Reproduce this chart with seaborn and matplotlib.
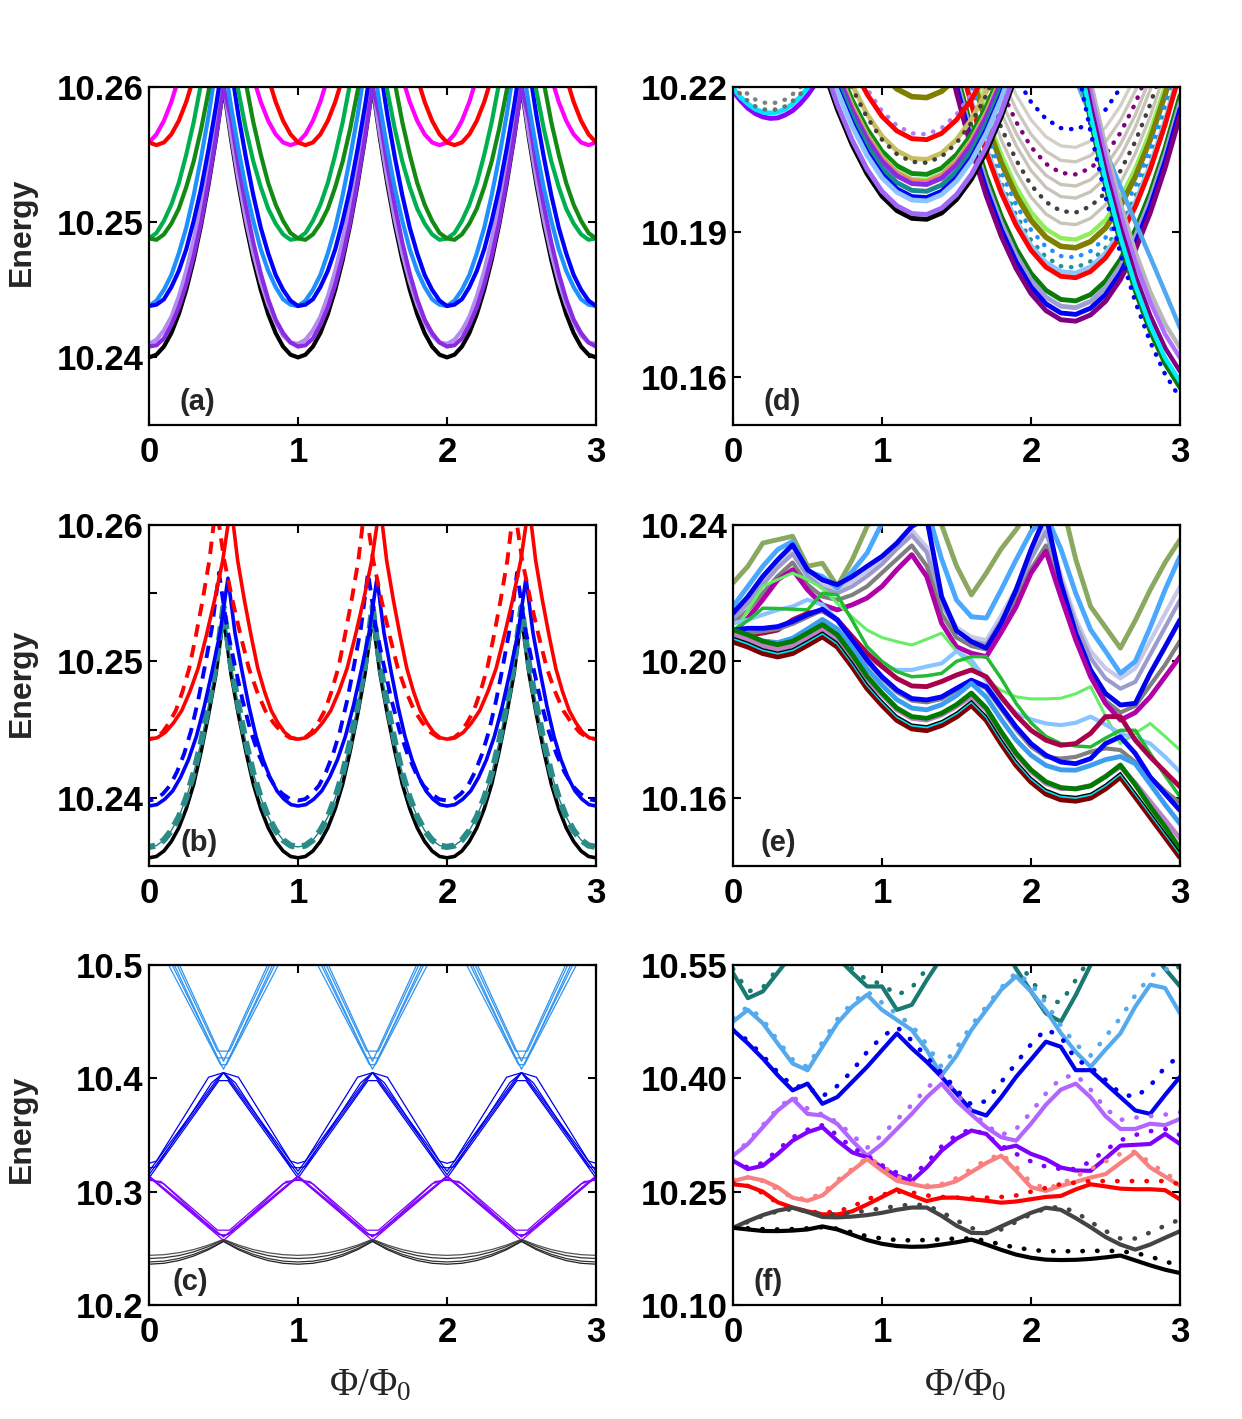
import numpy as np
import matplotlib
matplotlib.use("Agg")
import matplotlib.pyplot as plt
import seaborn as sns

# ---------------------------------------------------------------
# (a) one flux period, x = 0.00 ... 0.95 (repeated three times)
# ---------------------------------------------------------------
A_X = np.round(np.arange(20) * 0.05, 2)
A_BLACK = [10.2400, 10.2402, 10.2408, 10.2418, 10.2432, 10.2450, 10.2472, 10.2498, 10.2528, 10.2562,
           10.2600, 10.2562, 10.2528, 10.2498, 10.2472, 10.2450, 10.2432, 10.2418, 10.2408, 10.2402]
A_LPURPLE = [10.2410, 10.2413, 10.2420, 10.2430, 10.2445, 10.2464, 10.2487, 10.2514, 10.2544, 10.2579,
             10.2602, 10.2565, 10.2532, 10.2502, 10.2477, 10.2456, 10.2439, 10.2426, 10.2416, 10.2411]
A_PURPLE = [10.2408, 10.2409, 10.2414, 10.2424, 10.2437, 10.2454, 10.2475, 10.2500, 10.2530, 10.2563,
            10.2600, 10.2577, 10.2542, 10.2512, 10.2485, 10.2462, 10.2443, 10.2428, 10.2418, 10.2411]
A_LBLUE = [10.2438, 10.2442, 10.2450, 10.2461, 10.2477, 10.2496, 10.2520, 10.2548, 10.2579, 10.2615,
           10.2622, 10.2586, 10.2554, 10.2525, 10.2501, 10.2480, 10.2464, 10.2452, 10.2443, 10.2439]
A_BLUE = [10.2438, 10.2439, 10.2443, 10.2452, 10.2464, 10.2480, 10.2501, 10.2525, 10.2554, 10.2586,
          10.2622, 10.2615, 10.2579, 10.2548, 10.2520, 10.2496, 10.2477, 10.2461, 10.2450, 10.2442]
A_LGREEN = [10.2488, 10.2492, 10.2501, 10.2513, 10.2529, 10.2550, 10.2574, 10.2603, 10.2635, 10.2671,
            10.2664, 10.2628, 10.2597, 10.2569, 10.2545, 10.2526, 10.2510, 10.2499, 10.2491, 10.2487]
A_DGREEN = [10.2488, 10.2487, 10.2491, 10.2499, 10.2510, 10.2526, 10.2545, 10.2569, 10.2597, 10.2628,
            10.2664, 10.2671, 10.2635, 10.2603, 10.2574, 10.2550, 10.2529, 10.2513, 10.2501, 10.2492]
A_MAGENTA = [10.2559, 10.2565, 10.2575, 10.2589, 10.2607, 10.2629, 10.2655, 10.2685, 10.2719, 10.2757,
             10.2719, 10.2685, 10.2655, 10.2629, 10.2607, 10.2589, 10.2575, 10.2565, 10.2559, 10.2557]
A_RED = [10.2559, 10.2557, 10.2559, 10.2565, 10.2575, 10.2589, 10.2607, 10.2629, 10.2655, 10.2685,
         10.2719, 10.2757, 10.2719, 10.2685, 10.2655, 10.2629, 10.2607, 10.2589, 10.2575, 10.2565]

# ---------------------------------------------------------------
# (b) one flux period per curve (flat minima, cusp-like maxima)
# ---------------------------------------------------------------
B_BLACK_X = [0, .05, .1, .15, .2, .25, .3, .35, .4, .45, .5, .55, .6, .65, .7, .75, .8, .85, .9, .95]
B_BLACK = [10.2356, 10.2357, 10.2361, 10.2368, 10.2378, 10.2392, 10.2410, 10.2434, 10.2461, 10.2491,
           10.2533, 10.2491, 10.2461, 10.2434, 10.2410, 10.2392, 10.2378, 10.2368, 10.2361, 10.2357]
B_TEAL = [10.2364, 10.2365, 10.2369, 10.2376, 10.2386, 10.2400, 10.2418, 10.2441, 10.2468, 10.2498,
          10.2540, 10.2498, 10.2468, 10.2441, 10.2418, 10.2400, 10.2386, 10.2376, 10.2369, 10.2365]
B_BLUE_X = [0, .053, .106, .159, .212, .265, .318, .371, .424, .477,
            .53, .577, .624, .671, .718, .765, .812, .859, .906, .953]
B_BLUE = [10.2394, 10.2395, 10.2399, 10.2405, 10.2415, 10.2428, 10.2445, 10.2467, 10.2493, 10.2521,
          10.2561, 10.2521, 10.2493, 10.2467, 10.2445, 10.2428, 10.2415, 10.2405, 10.2399, 10.2395]
B_BLUE_D_X = [0, .047, .094, .141, .188, .235, .282, .329, .376, .423,
              .47, .523, .576, .629, .682, .735, .788, .841, .894, .947]
B_BLUE_D = [10.2398, 10.2399, 10.2403, 10.2409, 10.2419, 10.2432, 10.2449, 10.2471, 10.2497, 10.2525,
            10.2565, 10.2525, 10.2497, 10.2471, 10.2449, 10.2432, 10.2419, 10.2409, 10.2403, 10.2399]
B_RED_X = [0, .055, .11, .165, .22, .275, .33, .385, .44, .495,
           .55, .595, .64, .685, .73, .775, .82, .865, .91, .955]
B_RED = [10.2443, 10.2444, 10.2448, 10.2455, 10.2464, 10.2478, 10.2495, 10.2519, 10.2545, 10.2574,
         10.2615, 10.2574, 10.2545, 10.2519, 10.2495, 10.2478, 10.2464, 10.2455, 10.2448, 10.2444]
B_RED_D_X = [0, .045, .09, .135, .18, .225, .27, .315, .36, .405,
             .45, .505, .56, .615, .67, .725, .78, .835, .89, .945]
B_RED_D = [10.2443, 10.2444, 10.2448, 10.2455, 10.2464, 10.2478, 10.2495, 10.2519, 10.2545, 10.2574,
           10.2615, 10.2574, 10.2545, 10.2519, 10.2495, 10.2478, 10.2464, 10.2455, 10.2448, 10.2444]

# ---------------------------------------------------------------
# (c) bundles of thin lines, one flux period each
# ---------------------------------------------------------------
C_LB = [([0.1, 0.5, 0.9], [10.515, 10.408, 10.515]),
        ([0.1, 0.46, 0.54, 0.9], [10.520, 10.418, 10.418, 10.520]),
        ([0.1, 0.46, 0.54, 0.9], [10.525, 10.424, 10.424, 10.525]),
        ([0.1, 0.5, 0.9], [10.530, 10.415, 10.530]),
        ([0.1, 0.48, 0.52, 0.9], [10.508, 10.412, 10.412, 10.508])]
C_B = [([0, 0.5], [10.315, 10.405]),
       ([0, 0.45, 0.5, 0.55], [10.318, 10.398, 10.405, 10.398]),
       ([0, 0.05, 0.4, 0.5, 0.6, 0.95], [10.325, 10.327, 10.401, 10.405, 10.401, 10.327]),
       ([0, 0.05, 0.42, 0.5, 0.58, 0.95], [10.321, 10.322, 10.396, 10.405, 10.396, 10.322]),
       ([0, 0.47, 0.53], [10.312, 10.398, 10.398])]
C_P = [([0, 0.5], [10.313, 10.257]),
       ([0, 0.08, 0.45, 0.5, 0.55, 0.92], [10.310, 10.309, 10.264, 10.261, 10.264, 10.309]),
       ([0, 0.1, 0.46, 0.54, 0.9], [10.311, 10.307, 10.266, 10.266, 10.307]),
       ([0, 0.5], [10.314, 10.260]),
       ([0, 0.47, 0.53], [10.313, 10.262, 10.262])]
C_K_X = [0, .1, .2, .3, .4, .5, .6, .7, .8, .9]
C_K = [[10.2438, 10.2444, 10.2461, 10.2489, 10.2529, 10.2580, 10.2529, 10.2489, 10.2461, 10.2444],
       [10.2410, 10.2417, 10.2436, 10.2469, 10.2516, 10.2575, 10.2516, 10.2469, 10.2436, 10.2417],
       [10.2380, 10.2387, 10.2410, 10.2447, 10.2498, 10.2565, 10.2498, 10.2447, 10.2410, 10.2387],
       [10.2360, 10.2368, 10.2392, 10.2432, 10.2488, 10.2560, 10.2488, 10.2432, 10.2392, 10.2368]]

# ---------------------------------------------------------------
# (d) four families of arcs
# ---------------------------------------------------------------
D1_X = np.round(np.arange(12) * 0.05, 2)          # 0.00 .. 0.55
D1_PURPLE = [10.2191, 10.2172, 10.2156, 10.2145, 10.2138, 10.2135, 10.2136, 10.2142, 10.2151, 10.2165, 10.2183, 10.2205]
D1_CYAN = [10.2198, 10.2179, 10.2165, 10.2154, 10.2148, 10.2146, 10.2148, 10.2154, 10.2165, 10.2179, 10.2198, 10.2221]
D1_GREYDOT1 = [10.2204, 10.2185, 10.2171, 10.2160, 10.2154, 10.2152, 10.2154, 10.2160, 10.2171, 10.2185, 10.2204, 10.2227]
D1_GREYDOT2 = [10.2218, 10.2199, 10.2185, 10.2174, 10.2168, 10.2166, 10.2168, 10.2174, 10.2185, 10.2199, 10.2218, 10.2241]

D2_X = np.round(0.6 + np.arange(14) * 0.1, 1)     # 0.6 .. 1.9
D2_BLACK = [10.2243, 10.2154, 10.2080, 10.2020, 10.1974, 10.1944, 10.1928, 10.1926, 10.1939, 10.1967, 10.2009, 10.2066, 10.2138, 10.2224]
D2_LPURPLE = [10.2253, 10.2164, 10.2090, 10.2030, 10.1984, 10.1954, 10.1938, 10.1936, 10.1949, 10.1977, 10.2019, 10.2076, 10.2148, 10.2234]
D2_LBLUE = [10.2281, 10.2192, 10.2118, 10.2058, 10.2012, 10.1982, 10.1966, 10.1964, 10.1977, 10.2005, 10.2047, 10.2104, 10.2176, 10.2262]
D2_BLUE = [10.2288, 10.2199, 10.2125, 10.2065, 10.2019, 10.1989, 10.1973, 10.1971, 10.1984, 10.2012, 10.2054, 10.2111, 10.2183, 10.2269]
D2_TEAL = [10.2301, 10.2212, 10.2138, 10.2078, 10.2032, 10.2002, 10.1986, 10.1984, 10.1997, 10.2025, 10.2067, 10.2124, 10.2196, 10.2282]
D2_PURPLE = [10.2315, 10.2226, 10.2152, 10.2092, 10.2046, 10.2016, 10.2000, 10.1998, 10.2011, 10.2039, 10.2081, 10.2138, 10.2210, 10.2296]
D2_SALMON = [10.2321, 10.2232, 10.2158, 10.2098, 10.2052, 10.2022, 10.2006, 10.2004, 10.2017, 10.2045, 10.2087, 10.2144, 10.2216, 10.2302]
D2_LGREEN = [10.2324, 10.2235, 10.2161, 10.2101, 10.2055, 10.2025, 10.2009, 10.2007, 10.2020, 10.2048, 10.2090, 10.2147, 10.2219, 10.2305]
D2_DGREEN = [10.2336, 10.2247, 10.2173, 10.2113, 10.2067, 10.2037, 10.2021, 10.2019, 10.2032, 10.2060, 10.2102, 10.2159, 10.2231, 10.2317]
D2_GREYDOT = [10.2360, 10.2271, 10.2197, 10.2137, 10.2091, 10.2061, 10.2045, 10.2043, 10.2056, 10.2084, 10.2126, 10.2183, 10.2255, 10.2341]
D2_KHAKI = [10.2367, 10.2278, 10.2204, 10.2144, 10.2098, 10.2068, 10.2052, 10.2050, 10.2063, 10.2091, 10.2133, 10.2190, 10.2262, 10.2348]
D2_RED = [10.2408, 10.2319, 10.2245, 10.2185, 10.2139, 10.2109, 10.2093, 10.2091, 10.2104, 10.2132, 10.2174, 10.2231, 10.2303, 10.2389]
D2_LPURPLEDOT = [10.2419, 10.2330, 10.2256, 10.2196, 10.2150, 10.2120, 10.2104, 10.2102, 10.2115, 10.2143, 10.2185, 10.2242, 10.2314, 10.2400]
D2_OLIVE = [10.2495, 10.2406, 10.2332, 10.2272, 10.2226, 10.2196, 10.2180, 10.2178, 10.2191, 10.2219, 10.2261, 10.2318, 10.2390, 10.2476]

D3_X = np.round(1.4 + np.arange(17) * 0.1, 1)     # 1.4 .. 3.0
D3_PURPLE = [10.2320, 10.2188, 10.2073, 10.1974, 10.1891, 10.1824, 10.1772, 10.1737, 10.1718, 10.1715, 10.1728, 10.1756, 10.1801, 10.1862, 10.1939, 10.2032, 10.2140]
D3_BLUE = [10.2334, 10.2202, 10.2087, 10.1988, 10.1905, 10.1838, 10.1786, 10.1751, 10.1732, 10.1729, 10.1742, 10.1770, 10.1815, 10.1876, 10.1953, 10.2046, 10.2154]
D3_LAVENDER = [10.2348, 10.2216, 10.2101, 10.2002, 10.1919, 10.1852, 10.1800, 10.1765, 10.1746, 10.1743, 10.1756, 10.1784, 10.1829, 10.1890, 10.1967, 10.2060, 10.2168]
D3_DGREEN = [10.2362, 10.2230, 10.2115, 10.2016, 10.1933, 10.1866, 10.1814, 10.1779, 10.1760, 10.1757, 10.1770, 10.1798, 10.1843, 10.1904, 10.1981, 10.2074, 10.2182]
D3_RED = [10.2410, 10.2278, 10.2163, 10.2064, 10.1981, 10.1914, 10.1862, 10.1827, 10.1808, 10.1805, 10.1818, 10.1846, 10.1891, 10.1952, 10.2029, 10.2122, 10.2230]
D3_LBLUE = [10.2420, 10.2288, 10.2173, 10.2074, 10.1991, 10.1924, 10.1872, 10.1837, 10.1818, 10.1815, 10.1828, 10.1856, 10.1901, 10.1962, 10.2039, 10.2132, 10.2240]
D3_TEALDOT = [10.2431, 10.2299, 10.2184, 10.2085, 10.2002, 10.1935, 10.1883, 10.1848, 10.1829, 10.1826, 10.1839, 10.1867, 10.1912, 10.1973, 10.2050, 10.2143, 10.2251]
D3_LBLUEDOT = [10.2452, 10.2320, 10.2205, 10.2106, 10.2023, 10.1956, 10.1904, 10.1869, 10.1850, 10.1847, 10.1860, 10.1888, 10.1933, 10.1994, 10.2071, 10.2164, 10.2272]
D3_OLIVE = [10.2472, 10.2340, 10.2225, 10.2126, 10.2043, 10.1976, 10.1924, 10.1889, 10.1870, 10.1867, 10.1880, 10.1908, 10.1953, 10.2014, 10.2091, 10.2184, 10.2292]
D3_LGREEN = [10.2489, 10.2357, 10.2242, 10.2143, 10.2060, 10.1993, 10.1941, 10.1906, 10.1887, 10.1884, 10.1897, 10.1925, 10.1970, 10.2031, 10.2108, 10.2201, 10.2309]
D3_GREY1 = [10.2520, 10.2388, 10.2273, 10.2174, 10.2091, 10.2024, 10.1972, 10.1937, 10.1918, 10.1915, 10.1928, 10.1956, 10.2001, 10.2062, 10.2139, 10.2232, 10.2340]
D3_GREYDOT = [10.2545, 10.2413, 10.2298, 10.2199, 10.2116, 10.2049, 10.1997, 10.1962, 10.1943, 10.1940, 10.1953, 10.1981, 10.2026, 10.2087, 10.2164, 10.2257, 10.2365]
D3_GREY2 = [10.2575, 10.2443, 10.2328, 10.2229, 10.2146, 10.2079, 10.2027, 10.1992, 10.1973, 10.1970, 10.1983, 10.2011, 10.2056, 10.2117, 10.2194, 10.2287, 10.2395]
D3_GREY3 = [10.2600, 10.2468, 10.2353, 10.2254, 10.2171, 10.2104, 10.2052, 10.2017, 10.1998, 10.1995, 10.2008, 10.2036, 10.2081, 10.2142, 10.2219, 10.2312, 10.2420]
D3_PURPLEDOT = [10.2624, 10.2492, 10.2377, 10.2278, 10.2195, 10.2128, 10.2076, 10.2041, 10.2022, 10.2019, 10.2032, 10.2060, 10.2105, 10.2166, 10.2243, 10.2336, 10.2444]
D3_GREY4 = [10.2650, 10.2518, 10.2403, 10.2304, 10.2221, 10.2154, 10.2102, 10.2067, 10.2048, 10.2045, 10.2058, 10.2086, 10.2131, 10.2192, 10.2269, 10.2362, 10.2470]
D3_GREY5 = [10.2680, 10.2548, 10.2433, 10.2334, 10.2251, 10.2184, 10.2132, 10.2097, 10.2078, 10.2075, 10.2088, 10.2116, 10.2161, 10.2222, 10.2299, 10.2392, 10.2500]
D3_BLUEDOT = [10.2717, 10.2585, 10.2470, 10.2371, 10.2288, 10.2221, 10.2169, 10.2134, 10.2115, 10.2112, 10.2125, 10.2153, 10.2198, 10.2259, 10.2336, 10.2429, 10.2537]

D4_X = np.round(2.3 + np.arange(8) * 0.1, 1)      # 2.3 .. 3.0
D4_LBLUE = [10.2215, 10.2141, 10.2068, 10.1994, 10.1920, 10.1848, 10.1775, 10.1701]
D4_GREY = [10.2362, 10.2211, 10.2077, 10.1959, 10.1859, 10.1776, 10.1709, 10.1660]
D4_LPURPLE = [10.2341, 10.2190, 10.2056, 10.1938, 10.1838, 10.1755, 10.1688, 10.1639]
D4_PURPLE = [10.2313, 10.2162, 10.2028, 10.1910, 10.1810, 10.1727, 10.1660, 10.1611]
D4_CYAN = [10.2292, 10.2141, 10.2007, 10.1889, 10.1789, 10.1706, 10.1639, 10.1590]
D4_DGREEN = [10.2279, 10.2128, 10.1994, 10.1876, 10.1776, 10.1693, 10.1626, 10.1577]
D4_BLUEDOT = [10.2258, 10.2107, 10.1973, 10.1855, 10.1755, 10.1672, 10.1605, 10.1556]

# ---------------------------------------------------------------
# (e) coarse sampled levels, x = 0.0 .. 3.0 step 0.1
# ---------------------------------------------------------------
EF_X = np.round(np.arange(31) * 0.1, 1)
E_DRED = [10.2058, 10.2043, 10.2024, 10.2014, 10.2024, 10.2048, 10.2073, 10.2043, 10.1985, 10.1921, 10.1872, 10.1828, 10.1803, 10.1798, 10.1813, 10.1838,
          10.1872, 10.1828, 10.1759, 10.1696, 10.1647, 10.1612, 10.1595, 10.1591, 10.1600, 10.1627, 10.1661, 10.1603, 10.1544, 10.1485, 10.1426]
E_CYAN = [10.2067, 10.2052, 10.2033, 10.2023, 10.2033, 10.2057, 10.2082, 10.2052, 10.1994, 10.1930, 10.1881, 10.1837, 10.1812, 10.1807, 10.1822, 10.1847,
          10.1881, 10.1837, 10.1768, 10.1705, 10.1656, 10.1621, 10.1604, 10.1600, 10.1609, 10.1636, 10.1670, 10.1612, 10.1553, 10.1494, 10.1435]
E_BLACK = [10.2071, 10.2056, 10.2037, 10.2027, 10.2037, 10.2061, 10.2086, 10.2056, 10.1998, 10.1934, 10.1885, 10.1841, 10.1816, 10.1811, 10.1826, 10.1851,
           10.1885, 10.1841, 10.1772, 10.1709, 10.1660, 10.1625, 10.1608, 10.1604, 10.1613, 10.1640, 10.1674, 10.1616, 10.1557, 10.1498, 10.1439]
E_DGREEN = [10.2093, 10.2078, 10.2059, 10.2049, 10.2059, 10.2083, 10.2108, 10.2078, 10.2020, 10.1956, 10.1907, 10.1863, 10.1838, 10.1833, 10.1848, 10.1873,
            10.1907, 10.1863, 10.1794, 10.1731, 10.1682, 10.1647, 10.1630, 10.1626, 10.1635, 10.1662, 10.1696, 10.1638, 10.1574, 10.1515, 10.1451]
E_MAUVE = [10.2080, 10.2065, 10.2046, 10.2036, 10.2046, 10.2070, 10.2095, 10.2065, 10.2007, 10.1943, 10.1902, 10.1858, 10.1833, 10.1828, 10.1843, 10.1868,
           10.1897, 10.1858, 10.1789, 10.1726, 10.1677, 10.1642, 10.1627, 10.1627, 10.1636, 10.1663, 10.1691, 10.1643, 10.1589, 10.1535, 10.1481]
E_DODGER = [10.2088, 10.2075, 10.2060, 10.2055, 10.2068, 10.2095, 10.2123, 10.2095, 10.2040, 10.1978, 10.1930, 10.1888, 10.1863, 10.1858, 10.1873, 10.1900,
            10.1936, 10.1895, 10.1830, 10.1770, 10.1725, 10.1695, 10.1682, 10.1681, 10.1695, 10.1712, 10.1721, 10.1700, 10.1640, 10.1580, 10.1524]
E_GREY = [10.2078, 10.2083, 10.2088, 10.2095, 10.2110, 10.2130, 10.2150, 10.2120, 10.2060, 10.2000, 10.1950, 10.1910, 10.1885, 10.1880, 10.1890, 10.1915,
          10.1945, 10.1920, 10.1860, 10.1800, 10.1750, 10.1720, 10.1715, 10.1720, 10.1735, 10.1745, 10.1740, 10.1705, 10.1660, 10.1620, 10.1585]
E_BLUE = [10.2092, 10.2097, 10.2097, 10.2102, 10.2117, 10.2137, 10.2153, 10.2122, 10.2063, 10.2004, 10.1955, 10.1916, 10.1891, 10.1887, 10.1896, 10.1921,
          10.1945, 10.1926, 10.1867, 10.1808, 10.1759, 10.1725, 10.1705, 10.1700, 10.1715, 10.1759, 10.1779, 10.1730, 10.1661, 10.1612, 10.1563]
E_CRIMSON = [10.2083, 10.2078, 10.2083, 10.2092, 10.2122, 10.2141, 10.2149, 10.2122, 10.2073, 10.2024, 10.1985, 10.1950, 10.1928, 10.1926, 10.1941, 10.1960,
             10.1975, 10.1955, 10.1896, 10.1842, 10.1798, 10.1769, 10.1754, 10.1759, 10.1789, 10.1838, 10.1838, 10.1769, 10.1720, 10.1676, 10.1632]
E_LSKY = [10.2112, 10.2122, 10.2137, 10.2151, 10.2161, 10.2181, 10.2166, 10.2122, 10.2063, 10.2014, 10.1985, 10.1975, 10.1975, 10.1985, 10.1994, 10.2030,
          10.2004, 10.1945, 10.1890, 10.1848, 10.1830, 10.1818, 10.1813, 10.1820, 10.1838, 10.1815, 10.1789, 10.1775, 10.1759, 10.1720, 10.1676]
E_GREEN = [10.2090, 10.2120, 10.2156, 10.2155, 10.2153, 10.2151, 10.2200, 10.2195, 10.2120, 10.2043, 10.2000, 10.1970, 10.1955, 10.1958, 10.1965, 10.2000,
           10.2014, 10.2014, 10.1950, 10.1877, 10.1820, 10.1780, 10.1759, 10.1752, 10.1749, 10.1775, 10.1798, 10.1798, 10.1730, 10.1665, 10.1603]
E_LGREEN = [10.2080, 10.2150, 10.2220, 10.2240, 10.2259, 10.2240, 10.2215, 10.2170, 10.2130, 10.2092, 10.2070, 10.2058, 10.2048, 10.2065, 10.2083, 10.2030,
            10.1990, 10.1945, 10.1915, 10.1896, 10.1890, 10.1890, 10.1892, 10.1905, 10.1926, 10.1840, 10.1759, 10.1789, 10.1818, 10.1780, 10.1740]
E_MAGENTA = [10.2083, 10.2127, 10.2181, 10.2239, 10.2269, 10.2210, 10.2166, 10.2151, 10.2166, 10.2186, 10.2220, 10.2269, 10.2313, 10.2249, 10.2112, 10.2043,
             10.2024, 10.2014, 10.2085, 10.2160, 10.2259, 10.2323, 10.2190, 10.2063, 10.1955, 10.1877, 10.1828, 10.1850, 10.1896, 10.1955, 10.2014]
E_GREYUP = [10.2110, 10.2150, 10.2200, 10.2250, 10.2290, 10.2225, 10.2190, 10.2180, 10.2195, 10.2220, 10.2260, 10.2300, 10.2340, 10.2280, 10.2140, 10.2070,
            10.2045, 10.2035, 10.2100, 10.2180, 10.2270, 10.2340, 10.2200, 10.2070, 10.1960, 10.1885, 10.1850, 10.1870, 10.1930, 10.1990, 10.2060]
E_LAVGREY = [10.2125, 10.2170, 10.2225, 10.2275, 10.2315, 10.2250, 10.2215, 10.2200, 10.2220, 10.2250, 10.2285, 10.2330, 10.2370, 10.2320, 10.2170, 10.2090,
             10.2060, 10.2050, 10.2120, 10.2200, 10.2300, 10.2380, 10.2240, 10.2110, 10.2010, 10.1950, 10.1920, 10.1940, 10.2020, 10.2100, 10.2180]
E_LAVENDER = [10.2135, 10.2180, 10.2235, 10.2285, 10.2325, 10.2260, 10.2228, 10.2212, 10.2235, 10.2265, 10.2300, 10.2345, 10.2385, 10.2335, 10.2180, 10.2100,
              10.2072, 10.2062, 10.2135, 10.2215, 10.2315, 10.2395, 10.2255, 10.2125, 10.2030, 10.1980, 10.1950, 10.1980, 10.2060, 10.2140, 10.2220]
E_BLUEUP = [10.2141, 10.2190, 10.2249, 10.2298, 10.2342, 10.2269, 10.2239, 10.2225, 10.2249, 10.2279, 10.2308, 10.2347, 10.2396, 10.2420, 10.2190, 10.2090,
            10.2058, 10.2039, 10.2112, 10.2210, 10.2328, 10.2430, 10.2230, 10.2083, 10.1975, 10.1906, 10.1872, 10.1877, 10.1965, 10.2043, 10.2122]
E_LBLUEUP = [10.2161, 10.2220, 10.2279, 10.2328, 10.2352, 10.2264, 10.2249, 10.2215, 10.2264, 10.2318, 10.2406, 10.2450, 10.2480, 10.2450, 10.2300, 10.2180,
             10.2131, 10.2127, 10.2210, 10.2298, 10.2380, 10.2430, 10.2330, 10.2200, 10.2093, 10.2030, 10.1965, 10.2000, 10.2100, 10.2210, 10.2308]
E_OLIVE = [10.2230, 10.2279, 10.2347, 10.2357, 10.2367, 10.2279, 10.2288, 10.2220, 10.2298, 10.2396, 10.2460, 10.2500, 10.2520, 10.2500, 10.2400, 10.2280,
           10.2195, 10.2259, 10.2330, 10.2386, 10.2450, 10.2500, 10.2480, 10.2300, 10.2161, 10.2100, 10.2039, 10.2120, 10.2210, 10.2290, 10.2357]

# ---------------------------------------------------------------
# (f) solid / dotted pairs, x = 0.0 .. 3.0 step 0.1
# ---------------------------------------------------------------
F_BLACK = [10.2022, 10.2000, 10.1980, 10.1978, 10.1985, 10.2000, 10.2040, 10.2000, 10.1930, 10.1860, 10.1810, 10.1780, 10.1770, 10.1775, 10.1800, 10.1830,
           10.1866, 10.1800, 10.1730, 10.1667, 10.1625, 10.1600, 10.1595, 10.1598, 10.1610, 10.1630, 10.1655, 10.1590, 10.1525, 10.1467, 10.1423]
F_BLACK_D = [10.2022, 10.2015, 10.2005, 10.2000, 10.2005, 10.2015, 10.2030, 10.2010, 10.1960, 10.1910, 10.1880, 10.1860, 10.1855, 10.1860, 10.1870, 10.1880,
             10.1880, 10.1850, 10.1800, 10.1760, 10.1730, 10.1712, 10.1712, 10.1712, 10.1715, 10.1720, 10.1710, 10.1690, 10.1640, 10.1580, 10.1512]
F_DGREY = [10.2022, 10.2110, 10.2190, 10.2250, 10.2287, 10.2230, 10.2165, 10.2160, 10.2170, 10.2190, 10.2220, 10.2260, 10.2290, 10.2290, 10.2180, 10.2050,
           10.1955, 10.1950, 10.2040, 10.2130, 10.2220, 10.2287, 10.2260, 10.2150, 10.2030, 10.1900, 10.1800, 10.1733, 10.1800, 10.1890, 10.1977]
F_DGREY_D = [10.2022, 10.2100, 10.2180, 10.2240, 10.2270, 10.2240, 10.2200, 10.2200, 10.2220, 10.2250, 10.2280, 10.2310, 10.2330, 10.2320, 10.2230, 10.2120,
             10.2020, 10.1960, 10.2000, 10.2100, 10.2200, 10.2280, 10.2300, 10.2230, 10.2100, 10.1980, 10.1880, 10.1880, 10.1960, 10.2050, 10.2132]
F_RED = [10.2598, 10.2575, 10.2500, 10.2360, 10.2290, 10.2240, 10.2200, 10.2199, 10.2240, 10.2330, 10.2430, 10.2530, 10.2450, 10.2376, 10.2420, 10.2421,
         10.2400, 10.2380, 10.2354, 10.2370, 10.2400, 10.2430, 10.2443, 10.2530, 10.2598, 10.2570, 10.2540, 10.2532, 10.2532, 10.2520, 10.2398]
F_RED_D = [10.2620, 10.2575, 10.2480, 10.2350, 10.2280, 10.2240, 10.2220, 10.2240, 10.2300, 10.2400, 10.2460, 10.2500, 10.2490, 10.2450, 10.2430, 10.2420,
           10.2420, 10.2420, 10.2430, 10.2450, 10.2500, 10.2550, 10.2600, 10.2620, 10.2640, 10.2640, 10.2640, 10.2640, 10.2640, 10.2640, 10.2600]
F_SALMON = [10.2640, 10.2690, 10.2650, 10.2560, 10.2420, 10.2380, 10.2450, 10.2620, 10.2780, 10.2931, 10.2780, 10.2643, 10.2600, 10.2560, 10.2580, 10.2640,
            10.2760, 10.2880, 10.2976, 10.2776, 10.2560, 10.2510, 10.2577, 10.2630, 10.2687, 10.2732, 10.2880, 10.3020, 10.2820, 10.2700, 10.2577]
F_SALMON_D = [10.2660, 10.2690, 10.2640, 10.2530, 10.2420, 10.2400, 10.2480, 10.2650, 10.2800, 10.2950, 10.2850, 10.2700, 10.2620, 10.2580, 10.2600, 10.2680,
              10.2800, 10.2920, 10.3000, 10.2830, 10.2620, 10.2540, 10.2600, 10.2700, 10.2800, 10.2900, 10.3000, 10.3030, 10.2880, 10.2750, 10.2620]
F_PURPLE = [10.2909, 10.2798, 10.2843, 10.3000, 10.3175, 10.3287, 10.3353, 10.3175, 10.3020, 10.2954, 10.2820, 10.2710, 10.2643, 10.2820, 10.3043, 10.3200,
            10.3309, 10.3264, 10.3065, 10.3109, 10.3000, 10.2930, 10.2820, 10.2780, 10.2776, 10.2940, 10.3109, 10.3120, 10.3131, 10.3264, 10.3131]
F_PURPLE_D = [10.2909, 10.2820, 10.2880, 10.3050, 10.3220, 10.3320, 10.3380, 10.3250, 10.3080, 10.2980, 10.2850, 10.2750, 10.2700, 10.2880, 10.3100, 10.3250,
              10.3330, 10.3250, 10.3110, 10.3000, 10.2900, 10.2830, 10.2800, 10.2800, 10.2900, 10.3050, 10.3180, 10.3250, 10.3300, 10.3330, 10.3250]
F_LPURPLE = [10.2976, 10.3131, 10.3353, 10.3575, 10.3730, 10.3530, 10.3508, 10.3397, 10.3175, 10.2976, 10.3131, 10.3330, 10.3530, 10.3750, 10.3930, 10.3700,
             10.3520, 10.3350, 10.3220, 10.3175, 10.3400, 10.3650, 10.3850, 10.3930, 10.3750, 10.3500, 10.3330, 10.3330, 10.3400, 10.3380, 10.3463]
F_LPURPLE_D = [10.2976, 10.3160, 10.3380, 10.3600, 10.3760, 10.3600, 10.3520, 10.3420, 10.3250, 10.3080, 10.3250, 10.3450, 10.3650, 10.3870, 10.4030, 10.3800,
               10.3560, 10.3380, 10.3250, 10.3330, 10.3550, 10.3800, 10.4000, 10.4050, 10.3850, 10.3600, 10.3450, 10.3480, 10.3500, 10.3520, 10.3550]
F_BLUE = [10.4640, 10.4462, 10.4263, 10.4041, 10.3841, 10.3930, 10.3663, 10.3752, 10.3952, 10.4152, 10.4374, 10.4595, 10.4396, 10.4218, 10.4019, 10.3800,
          10.3575, 10.3508, 10.3750, 10.4019, 10.4250, 10.4485, 10.4418, 10.4108, 10.4108, 10.3930, 10.3752, 10.3575, 10.3530, 10.3780, 10.4019]
F_BLUE_D = [10.4640, 10.4500, 10.4300, 10.4080, 10.3900, 10.3880, 10.3760, 10.3900, 10.4100, 10.4350, 10.4550, 10.4680, 10.4500, 10.4280, 10.4080, 10.3850,
            10.3650, 10.3700, 10.3950, 10.4200, 10.4450, 10.4650, 10.4550, 10.4250, 10.4150, 10.3980, 10.3800, 10.3750, 10.3900, 10.4150, 10.4300]
F_LBLUE = [10.4751, 10.4906, 10.4729, 10.4462, 10.4196, 10.4107, 10.4418, 10.4729, 10.4950, 10.5106, 10.4906, 10.4773, 10.4640, 10.4374, 10.4041, 10.4300,
           10.4640, 10.4906, 10.5172, 10.5350, 10.5150, 10.4900, 10.4600, 10.4350, 10.4152, 10.4380, 10.4595, 10.4950, 10.5239, 10.5195, 10.4861]
F_LBLUE_D = [10.4800, 10.4950, 10.4780, 10.4500, 10.4250, 10.4150, 10.4480, 10.4780, 10.5000, 10.5150, 10.5000, 10.4850, 10.4700, 10.4450, 10.4150, 10.4400,
             10.4700, 10.4950, 10.5200, 10.5400, 10.5250, 10.5000, 10.4700, 10.4450, 10.4300, 10.4550, 10.4800, 10.5100, 10.5350, 10.5450, 10.5400]
F_TEAL = [10.5394, 10.5061, 10.5150, 10.5400, 10.5650, 10.5800, 10.5800, 10.5600, 10.5400, 10.5216, 10.5216, 10.4906, 10.4973, 10.5300, 10.5600, 10.5800,
          10.5800, 10.5800, 10.5800, 10.5450, 10.5150, 10.4860, 10.4750, 10.5100, 10.5500, 10.5800, 10.5800, 10.5800, 10.5700, 10.5450, 10.5217]
F_TEAL_D = [10.5450, 10.5150, 10.5200, 10.5450, 10.5700, 10.5800, 10.5800, 10.5650, 10.5450, 10.5300, 10.5250, 10.5100, 10.5200, 10.5450, 10.5700, 10.5800,
            10.5800, 10.5800, 10.5800, 10.5600, 10.5300, 10.5050, 10.5000, 10.5300, 10.5600, 10.5800, 10.5800, 10.5800, 10.5800, 10.5650, 10.5450]

DOT = (0.1, 2.2)


def periodic(xs, ys, n=3):
    # repeat one flux period over 0..n
    xs = np.asarray(xs, dtype=float)
    ys = np.asarray(ys, dtype=float)
    px = np.concatenate([[xs[-1] - 1]] + [xs + k for k in range(n)] + [[xs[0] + n]])
    py = np.concatenate([[ys[-1]]] + [ys] * n + [[ys[0]]])
    return px, py


def draw(ax, x, y, color, lw, dash=None, cap="butt"):
    sns.lineplot(x=np.asarray(x, dtype=float), y=np.asarray(y, dtype=float), ax=ax,
                 color=color, linewidth=lw, estimator=None, sort=False, errorbar=None)
    line = ax.lines[-1]
    if dash is not None:
        line.set_dashes(dash)
        line.set_dash_capstyle(cap)
    line.set_solid_joinstyle("round")
    return line


def setup(ax, ylim, yticks, ylabels, letter, lx):
    ax.set_xlim(0, 3)
    ax.set_ylim(*ylim)
    ax.set_xticks([0, 1, 2, 3])
    ax.set_xticklabels(["0", "1", "2", "3"])
    ax.set_yticks(yticks)
    ax.set_yticklabels(ylabels)
    ax.tick_params(axis="both", direction="in", length=6, width=1.5, top=True, right=True,
                   labelsize=25, colors="black")
    ax.tick_params(axis="x", pad=8)
    ax.tick_params(axis="y", pad=4)
    for s in ax.spines.values():
        s.set_linewidth(1.6)
        s.set_color("black")
    ax.set_xlabel("")
    ax.set_ylabel("")
    ax.text(lx, 0.068, letter, transform=ax.transAxes, fontsize=21, fontweight="bold",
            ha="center", va="center")


sns.set_theme(style="ticks")
plt.rcParams["font.family"] = ["Liberation Sans", "DejaVu Sans"]
plt.rcParams["font.weight"] = "bold"
plt.rcParams["mathtext.fontset"] = "custom"
plt.rcParams["mathtext.rm"] = "Liberation Serif:weight=normal"
plt.rcParams["mathtext.it"] = "Liberation Serif:italic:weight=normal"
plt.rcParams["mathtext.bf"] = "Liberation Serif:weight=bold"

fig = plt.figure(figsize=(12.42, 14.19), dpi=100)
W = 447 / 1242
XL, XR = 149 / 1242, 733 / 1242
rows = [(87, 425), (525, 866), (965, 1305)]
pos = [(1 - b / 1419, (b - t) / 1419) for t, b in rows]

ax_a = fig.add_axes([XL, pos[0][0], W, pos[0][1]])
ax_d = fig.add_axes([XR, pos[0][0], W, pos[0][1]])
ax_b = fig.add_axes([XL, pos[1][0], W, pos[1][1]])
ax_e = fig.add_axes([XR, pos[1][0], W, pos[1][1]])
ax_c = fig.add_axes([XL, pos[2][0], W, pos[2][1]])
ax_f = fig.add_axes([XR, pos[2][0], W, pos[2][1]])

# ---- (a)
for ys, col in [(A_BLACK, "#000000"), (A_LPURPLE, "#b28cf0"), (A_PURPLE, "#8a2be2"),
                (A_LBLUE, "#1e90ff"), (A_BLUE, "#0000ff"), (A_LGREEN, "#00b050"),
                (A_DGREEN, "#138a13"), (A_MAGENTA, "#ff00ff"), (A_RED, "#ff0000")]:
    px, py = periodic(A_X, ys)
    draw(ax_a, px, py, col, 3.0)
setup(ax_a, (10.235, 10.26), [10.24, 10.25, 10.26], ["10.24", "10.25", "10.26"], "(a)", 0.108)

# ---- (b)
px, py = periodic(B_BLACK_X, B_BLACK)
draw(ax_b, px, py, "#000000", 2.6)
px, py = periodic(B_BLACK_X, B_TEAL)
draw(ax_b, px, py, "#1d8080", 1.0)
draw(ax_b, px, py, "#2a8c88", 4.5, dash=(2.2, 1.2))
px, py = periodic(B_BLUE_X, B_BLUE)
draw(ax_b, px, py, "#0000ff", 2.6)
px, py = periodic(B_BLUE_D_X, B_BLUE_D)
draw(ax_b, px, py, "#0000ff", 2.8, dash=(3.2, 2.2))
px, py = periodic(B_RED_X, B_RED)
draw(ax_b, px, py, "#ff0000", 2.6)
px, py = periodic(B_RED_D_X, B_RED_D)
draw(ax_b, px, py, "#ff0000", 2.8, dash=(3.2, 2.2))
setup(ax_b, (10.235, 10.26), [10.24, 10.245, 10.25, 10.255, 10.26],
      ["10.24", "", "10.25", "", "10.26"], "(b)", 0.113)

# ---- (c)
for xs, ys in C_LB:
    px, py = periodic(xs, ys)
    draw(ax_c, px, py, "#2f93f0", 0.9)
for xs, ys in C_B:
    px, py = periodic(xs, ys)
    draw(ax_c, px, py, "#0000f0", 0.9)
for xs, ys in C_P:
    px, py = periodic(xs, ys)
    draw(ax_c, px, py, "#8000ff", 0.9)
for ys, col in zip(C_K, ["#555555", "#333333", "#333333", "#222222"]):
    px, py = periodic(C_K_X, ys)
    draw(ax_c, px, py, col, 0.9)
setup(ax_c, (10.2, 10.5), [10.2, 10.3, 10.4, 10.5], ["10.2", "10.3", "10.4", "10.5"], "(c)", 0.092)

# ---- (d)
for ys, col, lw, dash in [
        (D3_GREY5, "#d4d0c8", 2.4, None), (D3_GREY4, "#ccc8be", 2.4, None),
        (D3_GREY3, "#c8c4ba", 2.4, None), (D3_GREY2, "#c8c4ba", 2.4, None),
        (D3_GREY1, "#c8c4ba", 2.4, None),
        (D3_BLUEDOT, "#0000ff", 3.2, DOT), (D3_PURPLEDOT, "#800080", 3.2, DOT),
        (D3_GREYDOT, "#404040", 3.2, DOT), (D3_LGREEN, "#90ee5a", 3.2, None),
        (D3_OLIVE, "#808000", 4.0, None), (D3_LBLUEDOT, "#2090ff", 3.2, DOT),
        (D3_TEALDOT, "#2a9090", 3.2, DOT), (D3_LBLUE, "#8cc4ff", 3.2, None),
        (D3_RED, "#ff0000", 3.5, None), (D3_DGREEN, "#0a7a0a", 3.5, None),
        (D3_LAVENDER, "#a0a0d0", 3.5, None), (D3_BLUE, "#0000ff", 3.5, None),
        (D3_PURPLE, "#800080", 3.5, None)]:
    draw(ax_d, D3_X, ys, col, lw, dash, "round")
for ys, col, lw, dash in [
        (D2_OLIVE, "#808000", 4.0, None), (D2_LPURPLEDOT, "#b07cff", 3.2, DOT),
        (D2_RED, "#ff0000", 3.5, None), (D2_KHAKI, "#c8c060", 3.5, None),
        (D2_GREYDOT, "#404040", 3.2, DOT), (D2_DGREEN, "#138a13", 3.5, None),
        (D2_LGREEN, "#90ee5a", 3.5, None), (D2_SALMON, "#f08070", 3.5, None),
        (D2_PURPLE, "#8a2be2", 3.5, None), (D2_TEAL, "#168c8c", 3.5, None),
        (D2_BLUE, "#0000ff", 3.5, None), (D2_LBLUE, "#8cc4ff", 3.5, None),
        (D2_BLACK, "#000000", 3.5, None), (D2_LPURPLE, "#a066f5", 3.5, None)]:
    draw(ax_d, D2_X, ys, col, lw, dash, "round")
for ys, col, lw, dash in [
        (D1_GREYDOT2, "#808080", 3.2, DOT), (D1_PURPLE, "#8b00ff", 3.5, None),
        (D1_CYAN, "#00e5ff", 3.5, None), (D1_GREYDOT1, "#707070", 3.2, DOT)]:
    draw(ax_d, D1_X, ys, col, lw, dash, "round")
for ys, col, lw, dash in [
        (D4_LBLUE, "#50a8f0", 3.2, None), (D4_GREY, "#b8b8b8", 3.2, None),
        (D4_LPURPLE, "#b070ff", 3.2, None), (D4_PURPLE, "#800080", 3.2, None),
        (D4_DGREEN, "#0a7a0a", 3.2, None), (D4_CYAN, "#00f0ff", 3.2, None),
        (D4_BLUEDOT, "#0000ff", 3.2, DOT)]:
    draw(ax_d, D4_X, ys, col, lw, dash, "round")
setup(ax_d, (10.15, 10.22), [10.16, 10.19, 10.22], ["10.16", "10.19", "10.22"], "(d)", 0.11)

# ---- (e)
for ys, col, lw in [
        (E_OLIVE, "#8aa860", 3.5), (E_LAVENDER, "#c8c8ea", 3.0), (E_LAVGREY, "#9c9ccc", 3.0),
        (E_LBLUEUP, "#4aa8ff", 3.5), (E_GREYUP, "#7f7f7f", 3.0), (E_BLUEUP, "#0000ee", 3.5),
        (E_MAGENTA, "#b000a8", 3.5), (E_LGREEN, "#66ee66", 2.2), (E_LSKY, "#88c4ff", 3.0),
        (E_GREEN, "#22bb33", 2.5), (E_CRIMSON, "#a8004a", 3.5), (E_GREY, "#808080", 3.0),
        (E_BLUE, "#0000ff", 3.5), (E_DODGER, "#3d9ef0", 3.5), (E_MAUVE, "#c080c8", 3.5),
        (E_DRED, "#800000", 4.0), (E_DGREEN, "#007a00", 3.5), (E_CYAN, "#00e0f0", 1.6),
        (E_BLACK, "#000000", 1.0)]:
    draw(ax_e, EF_X, ys, col, lw)
setup(ax_e, (10.14, 10.24), [10.16, 10.20, 10.24], ["10.16", "10.20", "10.24"], "(e)", 0.102)

# ---- (f)
FDOT = (0.1, 3.1)
for solid, dotted, col in [
        (F_TEAL, F_TEAL_D, "#1a7a72"), (F_LBLUE, F_LBLUE_D, "#55aaee"),
        (F_BLUE, F_BLUE_D, "#0000ee"), (F_LPURPLE, F_LPURPLE_D, "#b266ff"),
        (F_PURPLE, F_PURPLE_D, "#7f00ff"), (F_SALMON, F_SALMON_D, "#f88080"),
        (F_RED, F_RED_D, "#ff0000"), (F_DGREY, F_DGREY_D, "#444444"),
        (F_BLACK, F_BLACK_D, "#000000")]:
    draw(ax_f, EF_X, dotted, col, 3.3, FDOT, "round")
    draw(ax_f, EF_X, solid, col, 3.0)
setup(ax_f, (10.10, 10.55), [10.10, 10.25, 10.40, 10.55], ["10.10", "10.25", "10.40", "10.55"], "(f)", 0.078)

# axis titles
for yc in [232, 683, 1129]:
    fig.text(22 / 1242, 1 - yc / 1419, "Energy", rotation=90, fontsize=23, fontweight="bold",
             ha="center", va="center")
for xc in [370, 965]:
    fig.text(xc / 1242, 1 - 1385 / 1419, r"$\mathrm{\Phi/\Phi_0}$", fontsize=28,
             fontweight="normal", ha="center", va="center")

fig.savefig("out.png", dpi=100)
